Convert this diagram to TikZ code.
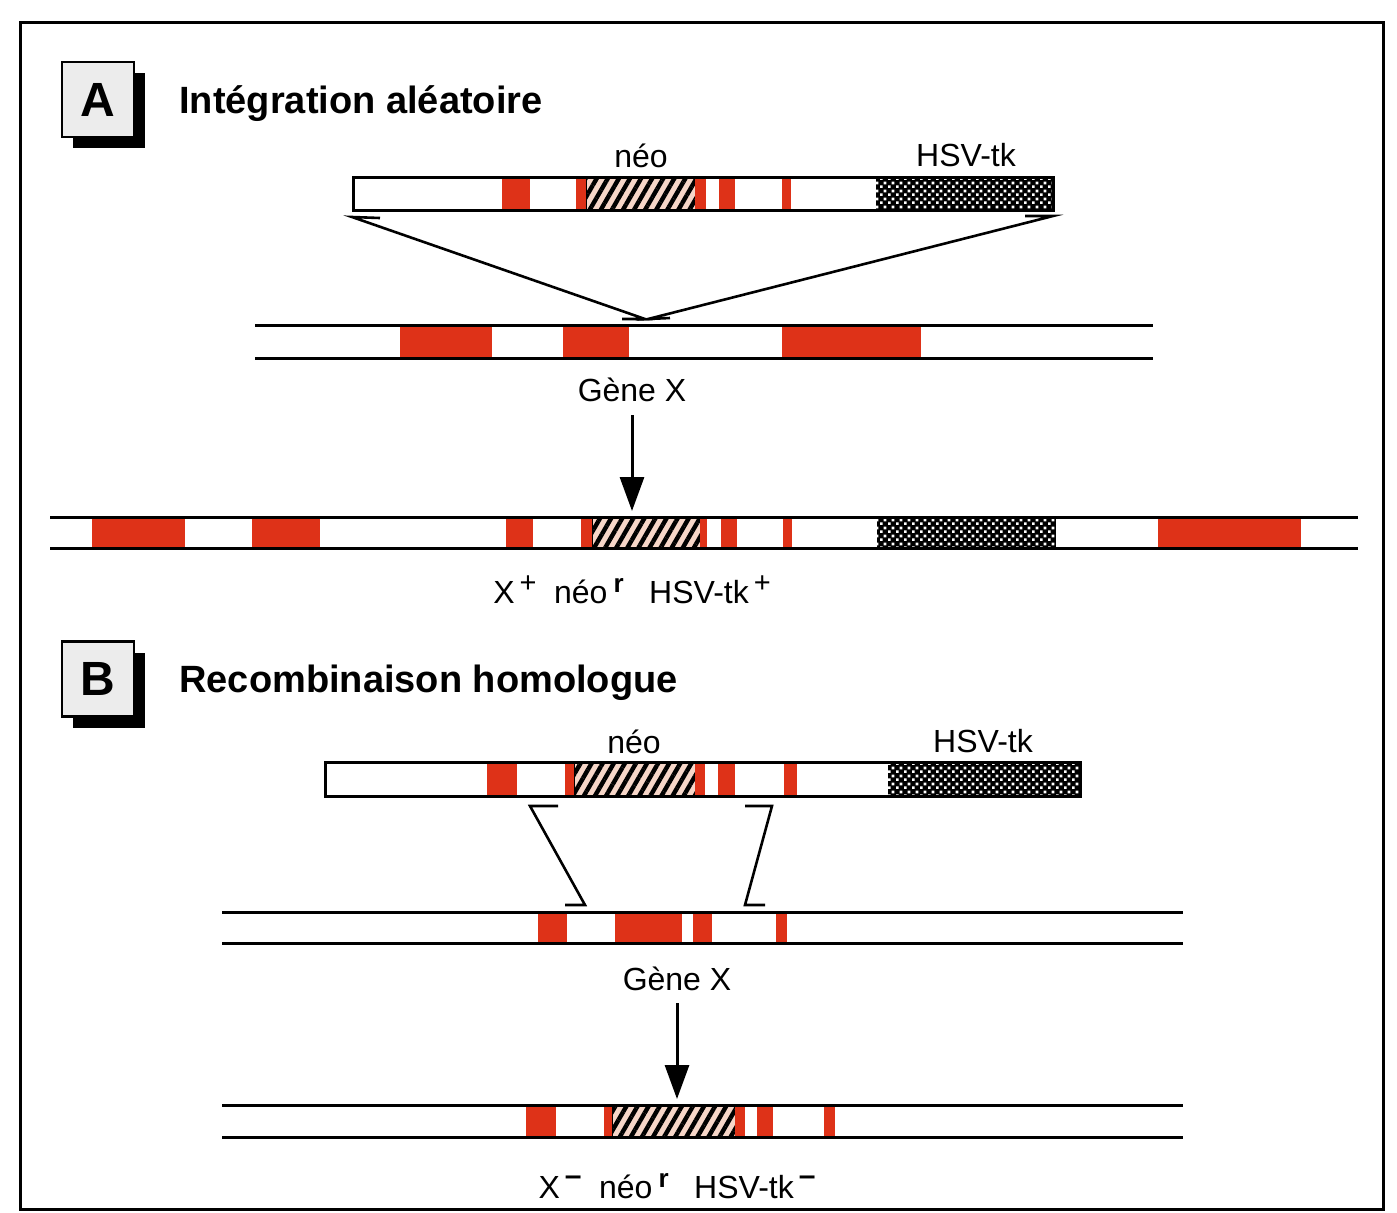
\documentclass[tikz,border=0pt]{standalone}
\usepackage{fontspec}
\setmainfont{Liberation Sans}
\usetikzlibrary{patterns,patterns.meta,arrows.meta,shadows}
\definecolor{exred}{RGB}{222,50,24}
\definecolor{hatchbg}{RGB}{246,214,200}
\definecolor{boxfill}{RGB}{236,236,236}
\pgfdeclarepatternformonly{finechecker}{\pgfpointorigin}{\pgfqpoint{4pt}{4pt}}{\pgfqpoint{4pt}{4pt}}{%
  \pgfpathrectangle{\pgfpointorigin}{\pgfqpoint{1.5pt}{1.5pt}}%
  \pgfpathrectangle{\pgfqpoint{2pt}{2pt}}{\pgfqpoint{1.5pt}{1.5pt}}%
  \pgfusepath{fill}}
\newcommand{\supplus}{\hspace{2.5pt}\raisebox{0.32em}{\fontsize{14.5}{14}\selectfont +}}
\newcommand{\supminus}{\hspace{2.5pt}\raisebox{0.4em}{\fontsize{15}{14}\selectfont\bfseries –}}
\newcommand{\supr}{\hspace{3pt}\raisebox{0.33em}{\fontsize{13}{13}\selectfont\bfseries r}}
\begin{document}
\begin{tikzpicture}[x=0.5pt,y=-0.5pt,
  lbl/.style={font=\fontsize{16}{19}\selectfont, inner sep=0pt, anchor=base},
  ttl/.style={font=\fontsize{19}{23}\selectfont\bfseries, inner sep=0pt, anchor=base west},
  lbox/.style={draw, line width=1.2pt, fill=boxfill, minimum width=36pt, minimum height=37.5pt, inner sep=0pt,
    font=\fontsize{24}{24}\selectfont\bfseries,
    drop shadow={shadow xshift=5.5pt, shadow yshift=-5.5pt, opacity=1, fill=black}},
  strand/.style={line width=1.5pt},
  exon/.style={fill=exred},
  neo/.style={fill=hatchbg, draw=black, line width=0.5pt,
    postaction={pattern={Lines[angle=60,distance=4.8pt,line width=2.2pt]}, pattern color=black}},
  tk/.style={fill=black, postaction={pattern=finechecker, pattern color=white}},
  vec/.style={draw, line width=1.5pt},
  cross/.style={line width=1.3pt, line join=miter},
  arr/.style={line width=1.5pt, -{Triangle[length=17pt,width=12pt]}},
]
\useasboundingbox (0,0) rectangle (1397,1212);
% frame
\draw[line width=1.5pt] (20,22) rectangle (1383,1209);

% ================= A =================
\node[lbox] (boxA) at (98,99.5) {A};
\node[ttl] (titleA) at (179,113) {Intégration aléatoire};

% vector A
\node[lbl] (neoA) at (641,167) {néo};
\node[lbl] (hsvA) at (966,166) {HSV-tk};
\fill[white] (353,177) rectangle (1053,210);
\path[exon] (502,177) rectangle (530,210);
\path[exon] (576,177) rectangle (586,210);
\path[neo]  (586,177) rectangle (695,210);
\path[exon] (695,177) rectangle (706,210);
\path[exon] (719,177) rectangle (735,210);
\path[exon] (782,177) rectangle (791,210);
\path[tk]   (876,177) rectangle (1053,210);
\draw[vec] (353,177) rectangle (1053,210);
\coordinate (vAL) at (352,217);
\coordinate (vAR) at (1053,216);

% chromosome A
\path[exon] (400,325) rectangle (492,358);
\path[exon] (563,325) rectangle (629,358);
\path[exon] (782,325) rectangle (921,358);
\draw[strand] (255,325) -- (1153,325);
\draw[strand] (255,358) -- (1153,358);
\coordinate (cAL) at (645,319);
\coordinate (cAR) at (648,319);

% crossover lines A
\draw[cross] (380,218) -- (vAL) -- (cAL) -- (622,319);
\draw[cross] (1025,216) -- (vAR) -- (cAR) -- (670,318);

\node[lbl] (geneA) at (632,401) {Gène X};
\coordinate (resAtop) at (632,511);
\draw[arr] (632,415) -- (resAtop);

% result A
\path[exon] (92,517) rectangle (185,548);
\path[exon] (252,517) rectangle (320,548);
\path[exon] (506,517) rectangle (533,548);
\path[exon] (581,517) rectangle (592,548);
\path[neo]  (592,518) rectangle (700,548);
\path[exon] (700,517) rectangle (707,548);
\path[exon] (721,517) rectangle (737,548);
\path[exon] (783,517) rectangle (792,548);
\path[tk]   (877,517) rectangle (1056,548);
\path[exon] (1158,517) rectangle (1301,548);
\draw[strand] (50,517) -- (1358,517);
\draw[strand] (50,548) -- (1358,548);
\node[lbl] (resA) at (632,603) {X\supplus\hspace{0.55em}néo\supr\hspace{0.8em}HSV-tk\supplus};

% ================= B =================
\node[lbox] (boxB) at (98,679) {B};
\node[ttl] (titleB) at (179,692) {Recombinaison homologue};

% vector B
\node[lbl] (neoB) at (634,753) {néo};
\node[lbl] (hsvB) at (983,752) {HSV-tk};
\fill[white] (325,762) rectangle (1080,796);
\path[exon] (487,762) rectangle (517,796);
\path[exon] (565,762) rectangle (574,796);
\path[neo]  (574,762) rectangle (695,796);
\path[exon] (695,762) rectangle (705,796);
\path[exon] (718,762) rectangle (735,796);
\path[exon] (784,762) rectangle (797,796);
\path[tk]   (888,762) rectangle (1080,796);
\draw[vec] (325,762) rectangle (1080,796);
\coordinate (vBL) at (530,806);
\coordinate (vBR) at (772,806);

% chromosome B
\path[exon] (538,912) rectangle (567,943);
\path[exon] (615,912) rectangle (682,943);
\path[exon] (693,912) rectangle (712,943);
\path[exon] (776,912) rectangle (787,943);
\draw[strand] (222,912) -- (1183,912);
\draw[strand] (222,943) -- (1183,943);
\coordinate (cBL) at (585,905);
\coordinate (cBR) at (745,905);

% crossover brackets B
\draw[cross] (558,806) -- (vBL) -- (cBL) -- (565,905);
\draw[cross] (745,806) -- (vBR) -- (cBR) -- (765,905);

\node[lbl] (geneB) at (677,990) {Gène X};
\coordinate (resBtop) at (677,1099);
\draw[arr] (677,1003) -- (resBtop);

% result B
\path[exon] (526,1105) rectangle (556,1137);
\path[exon] (604,1105) rectangle (612,1137);
\path[neo]  (612,1106) rectangle (735,1137);
\path[exon] (735,1105) rectangle (745,1137);
\path[exon] (757,1105) rectangle (773,1137);
\path[exon] (824,1105) rectangle (835,1137);
\draw[strand] (222,1105) -- (1183,1105);
\draw[strand] (222,1137) -- (1183,1137);
\node[lbl] (resB) at (677,1198) {X\supminus\hspace{0.55em}néo\supr\hspace{0.8em}HSV-tk\supminus};
\end{tikzpicture}
\end{document}
